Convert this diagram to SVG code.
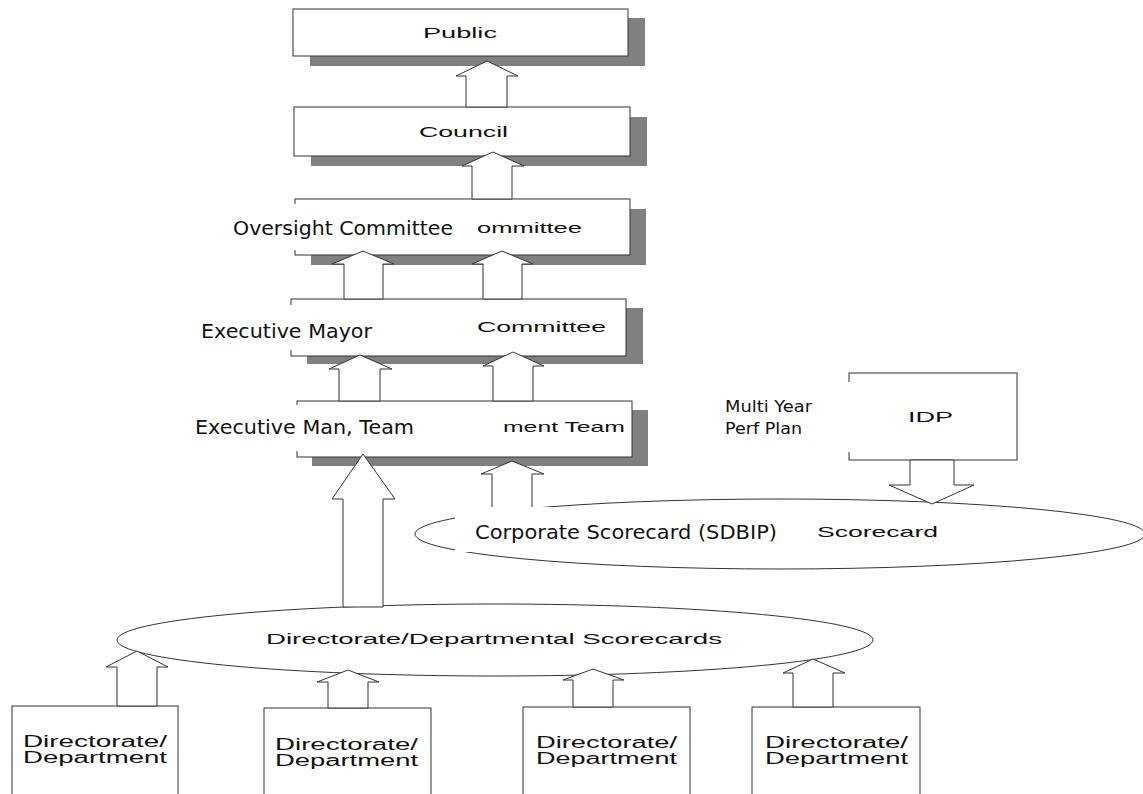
<svg xmlns="http://www.w3.org/2000/svg" width="1143" height="794" viewBox="0 0 1143 794">
<style>
.box{fill:#fff;stroke:#333;stroke-width:1}
.shadow{fill:#808080;stroke:none}
.ell{fill:none;stroke:#333;stroke-width:1}
.arrow{fill:#fff;stroke:#333;stroke-width:1;stroke-linejoin:miter}
.bg{fill:#fff;stroke:none}
.lbl{font-family:"Liberation Sans",Arial,sans-serif;font-size:15px;fill:#111}
.lbl16{font-family:"Liberation Sans",Arial,sans-serif;font-size:16px;fill:#111}
.cg{font-family:"DejaVu Sans","Liberation Sans",sans-serif;font-size:19px;fill:#111}
.cgs{font-family:"DejaVu Sans","Liberation Sans",sans-serif;font-size:16px;fill:#111}
</style>
<rect x="0" y="0" width="1143" height="794" fill="#fff"/>

<g id="public">
<rect class="shadow" x="310" y="18" width="335" height="48"/>
<rect class="box" x="293" y="9" width="335" height="47"/>
<text class="lbl" x="423" y="38" textLength="74" lengthAdjust="spacingAndGlyphs">Public</text>
</g>
<g id="council">
<rect class="shadow" x="311" y="117" width="336" height="49"/>
<rect class="box" x="294" y="107" width="336" height="49"/>
<text class="lbl" x="419" y="137" textLength="89" lengthAdjust="spacingAndGlyphs">Council</text>
</g>
<g id="oversight">
<rect class="shadow" x="311" y="209" width="335" height="56"/>
<rect class="box" x="295" y="199" width="335" height="56"/>
<text class="lbl" x="477" y="233" textLength="105" lengthAdjust="spacingAndGlyphs">ommittee</text>
</g>
<g id="mayor">
<rect class="shadow" x="307" y="308" width="336" height="56"/>
<rect class="box" x="291" y="299" width="335" height="57"/>
<text class="lbl" x="477" y="332" textLength="129" lengthAdjust="spacingAndGlyphs">Committee</text>
</g>
<g id="execteam">
<rect class="shadow" x="312" y="410" width="336" height="56"/>
<rect class="box" x="297" y="401" width="335" height="56"/>
<text class="lbl" x="503" y="432" textLength="122" lengthAdjust="spacingAndGlyphs">ment Team</text>
</g>
<g id="idp">
<rect class="box" x="849" y="373" width="168" height="87"/>
<text class="lbl" x="908" y="422" textLength="45" lengthAdjust="spacingAndGlyphs">IDP</text>
</g>
<g id="corporate">
<ellipse class="ell" cx="780" cy="534" rx="365" ry="35"/>
<text class="lbl" x="817" y="537" textLength="121" lengthAdjust="spacingAndGlyphs">Scorecard</text>
</g>
<g id="dirscorecards">
<ellipse class="ell" cx="495" cy="640" rx="378" ry="36"/>
<text class="lbl" x="266" y="644" textLength="456" lengthAdjust="spacingAndGlyphs">Directorate/Departmental Scorecards</text>
</g>
<g id="dept1">
<rect class="box" x="12" y="706" width="166" height="100"/>
<text class="lbl16" x="23" y="747" textLength="144" lengthAdjust="spacingAndGlyphs">Directorate/</text>
<text class="lbl16" x="23" y="763" textLength="144" lengthAdjust="spacingAndGlyphs">Department</text>
</g>
<g id="dept2">
<rect class="box" x="264" y="708" width="167" height="100"/>
<text class="lbl16" x="275" y="750" textLength="143" lengthAdjust="spacingAndGlyphs">Directorate/</text>
<text class="lbl16" x="275" y="766" textLength="143" lengthAdjust="spacingAndGlyphs">Department</text>
</g>
<g id="dept3">
<rect class="box" x="523" y="707" width="167" height="100"/>
<text class="lbl16" x="536" y="748" textLength="141" lengthAdjust="spacingAndGlyphs">Directorate/</text>
<text class="lbl16" x="536" y="764" textLength="141" lengthAdjust="spacingAndGlyphs">Department</text>
</g>
<g id="dept4">
<rect class="box" x="752" y="707" width="168" height="100"/>
<text class="lbl16" x="765" y="748" textLength="143" lengthAdjust="spacingAndGlyphs">Directorate/</text>
<text class="lbl16" x="765" y="764" textLength="143" lengthAdjust="spacingAndGlyphs">Department</text>
</g>

<g id="connectors">
<polygon class="arrow" points="466,107 466,76 456,76 487,61 518,76 507,76 507,107"/>
<polygon class="arrow" points="472,199 472,166 462,166 493,152 524,166 512,166 512,199"/>
<polygon class="arrow" points="344,299 344,264 332,264 363,251 394,264 383,264 383,299"/>
<polygon class="arrow" points="483,299 483,264 472,264 502,251 533,264 522,264 522,299"/>
<polygon class="arrow" points="339,401 339,369 329,369 360,355 392,369 380,369 380,401"/>
<polygon class="arrow" points="493,401 493,366 483,366 513,352 544,366 533,366 533,401"/>
<polygon class="arrow" points="343,607 343,499 332,499 363,454 395,499 383,499 383,607"/>
<polygon class="arrow" points="492,512 492,474 481,474 512,461 544,474 532,474 532,512"/>
<polygon class="arrow" points="910,460 910,485 889,485 932,504 974,485 954,485 954,460"/>
<polygon class="arrow" points="117,706 117,667 106,667 137,651 168,667 157,667 157,706"/>
<polygon class="arrow" points="328,708 328,682 317,682 348,670 379,682 368,682 368,708"/>
<polygon class="arrow" points="573,707 573,680 563,680 593,669 624,680 613,680 613,707"/>
<polygon class="arrow" points="793,707 793,673 783,673 813,659 845,673 833,673 833,707"/>
</g>

<g id="label-oversight">
<rect class="bg" x="228" y="204" width="246" height="46"/>
<text class="cg" x="233" y="235" textLength="220" lengthAdjust="spacingAndGlyphs">Oversight Committee</text>
</g>
<g id="label-mayor">
<rect class="bg" x="196" y="305" width="282" height="45"/>
<text class="cg" x="201" y="338" textLength="171" lengthAdjust="spacingAndGlyphs">Executive Mayor</text>
</g>
<g id="label-execteam">
<rect class="bg" x="190" y="405" width="310" height="46"/>
<text class="cg" x="195" y="434" textLength="219" lengthAdjust="spacingAndGlyphs">Executive Man, Team</text>
</g>
<g id="label-corporate">
<rect class="bg" x="455" y="507" width="345" height="45"/>
<text class="cg" x="475" y="539" textLength="302" lengthAdjust="spacingAndGlyphs">Corporate Scorecard (SDBIP)</text>
</g>
<g id="label-multiyear">
<rect class="bg" x="718" y="382" width="133" height="70"/>
<text class="cgs" x="725" y="412" textLength="87" lengthAdjust="spacingAndGlyphs">Multi Year</text>
<text class="cgs" x="725" y="434" textLength="77" lengthAdjust="spacingAndGlyphs">Perf Plan</text>
</g>
</svg>
